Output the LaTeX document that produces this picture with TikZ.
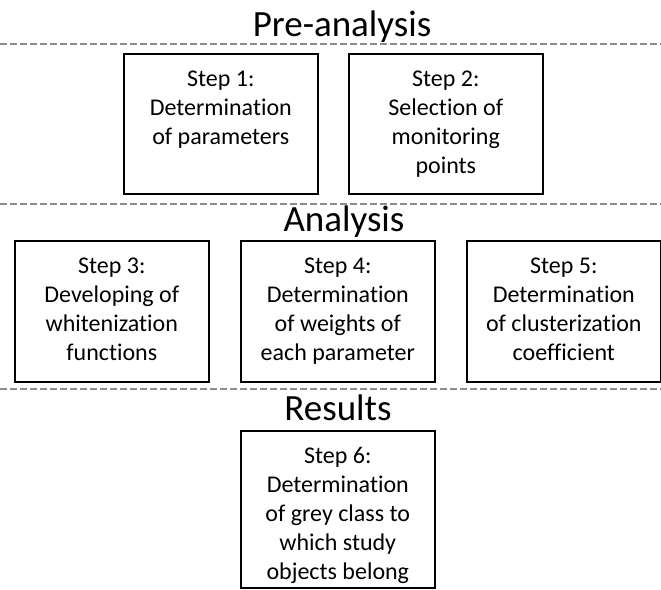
\documentclass[tikz,border=0pt]{standalone}
\usepackage{fontspec}
\setmainfont[Ligatures=CommonOff]{Carlito}
\newcommand{\steptext}[2]{\parbox[c][#1][t]{194pt}{\centering\vspace*{12pt}\fontsize{24}{29}\selectfont\strut #2}}

\begin{document}
\begin{tikzpicture}[x=1pt,y=-1pt,
  stepbox/.style={draw, line width=1.6pt, inner sep=0pt, anchor=north west},
  stage/.style={anchor=base, font=\fontsize{37}{44}\selectfont},
  divider/.style={gray!90, line width=1.5pt, dash pattern=on 6.5pt off 3.5pt}]
  \useasboundingbox (0,0) rectangle (661,589);
  \foreach \y in {44,204,389}
    \draw[divider] (0,\y) -- (661,\y);
  \node[stage] (pre) at (342,36) {Pre-analysis};
  \node[stepbox] (s1) at (123,53) {\steptext{140pt}{Step 1:\\ Determination\\ of parameters}};
  \node[stepbox] (s2) at (348,53) {\steptext{140pt}{Step 2:\\ Selection of\\ monitoring\\ points}};
  \node[stage] (ana) at (344,231) {Analysis};
  \node[stepbox] (s3) at (14,240) {\steptext{141pt}{Step 3:\\ Developing of\\ whitenization\\ functions}};
  \node[stepbox] (s4) at (240,240) {\steptext{141pt}{Step 4:\\ Determination\\ of weights of\\ each parameter}};
  \node[stepbox] (s5) at (466,240) {\steptext{141pt}{Step 5:\\ Determination\\ of clusterization\\ coefficient}};
  \node[stage] (res) at (338,420) {Results};
  \node[stepbox] (s6) at (240,430) {\steptext{157pt}{Step 6:\\ Determination\\ of grey class to\\ which study\\ objects belong}};
\end{tikzpicture}
\end{document}
